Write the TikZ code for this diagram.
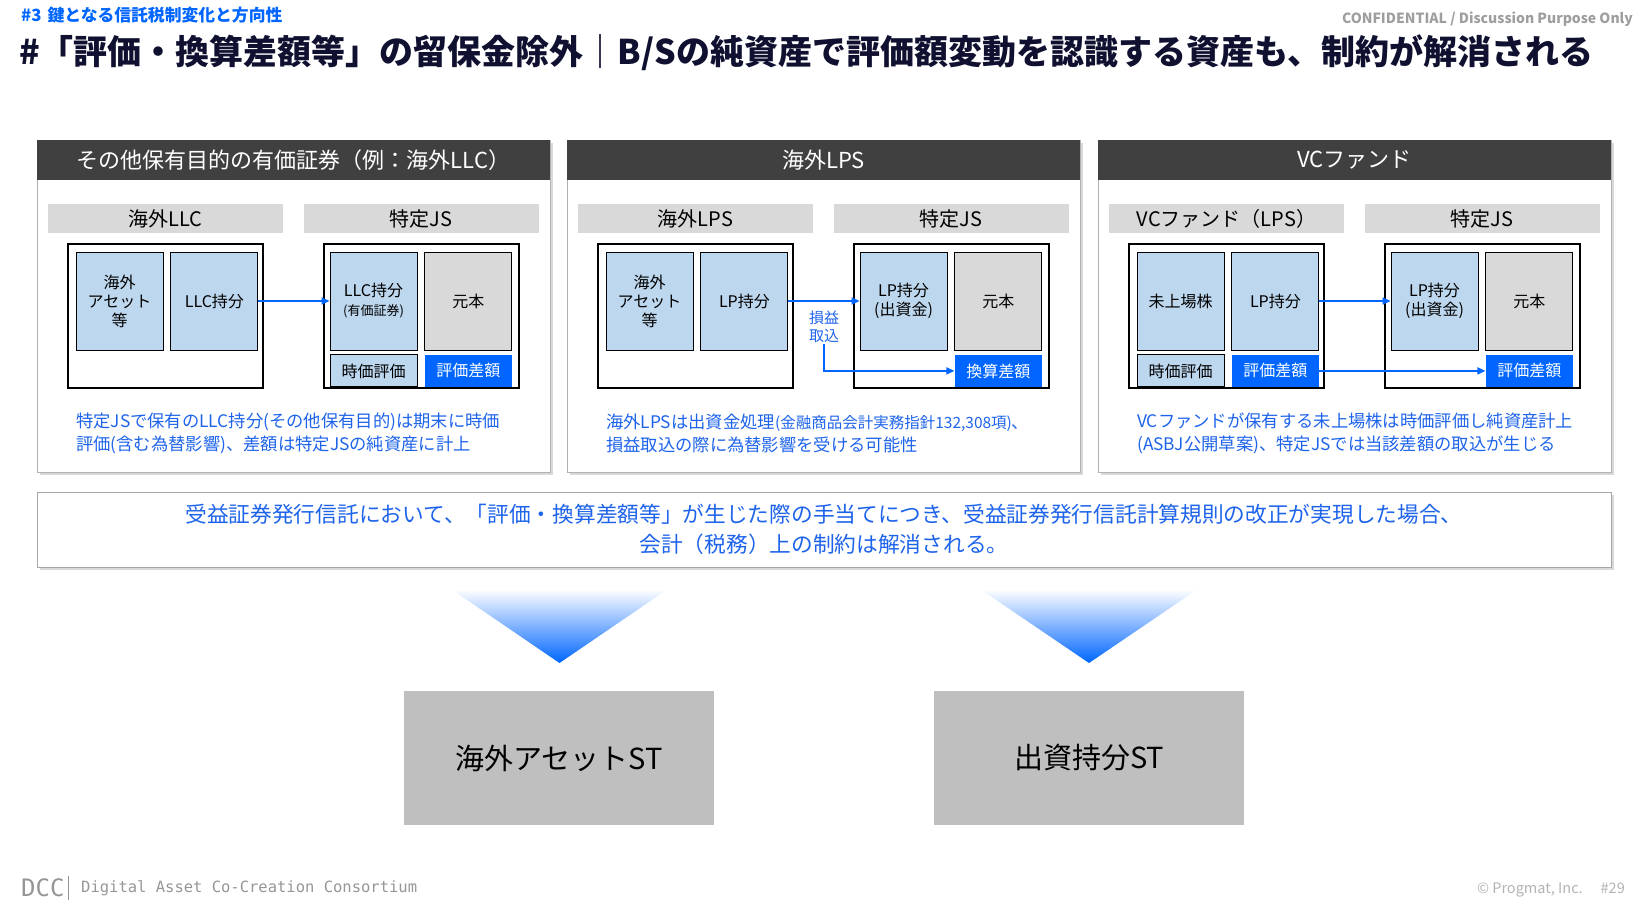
\documentclass[tikz,border=0pt]{standalone}
\usepackage{fontspec}
\setmainfont{Noto Sans CJK JP}
\newfontfamily\footmono{DejaVu Sans Mono}
\usetikzlibrary{positioning, arrows.meta, shadows}

\definecolor{bblue}{RGB}{0,102,255}
\definecolor{txtblue}{RGB}{30,100,235}
\definecolor{lblue}{RGB}{189,215,238}
\definecolor{headgray}{RGB}{64,64,64}
\definecolor{labgray}{RGB}{217,217,217}
\definecolor{stgray}{RGB}{191,191,191}
\definecolor{titleink}{RGB}{16,16,48}
\definecolor{footgray}{RGB}{150,150,150}

\begin{document}
\begin{tikzpicture}[x=1pt, y=-1pt,
		node distance={4pt and 7pt},
		panel/.style = {draw=black!30, fill=white, minimum width=513pt, minimum height=332pt, inner sep=0pt,
			drop shadow={opacity=0.3, shadow xshift=3pt, shadow yshift=-3pt}},
		head/.style = {fill=headgray, text=white, minimum width=513pt, minimum height=40pt, inner sep=0pt, font=\fontsize{22}{26}\selectfont},
		tag/.style = {fill=labgray, minimum width=235pt, minimum height=29pt, inner sep=0pt, font=\fontsize{20}{24}\selectfont},
		frame/.style = {draw, line width=1.2pt, minimum width=195pt, minimum height=144pt, inner sep=0pt},
		item/.style = {draw, line width=0.9pt, fill=lblue, minimum width=87pt, minimum height=98pt, inner sep=0pt, align=center, font=\fontsize{16}{19}\selectfont},
		gitem/.style = {item, fill=labgray},
		sub/.style = {draw, line width=0.9pt, fill=lblue, minimum width=87pt, minimum height=32pt, inner sep=0pt, font=\fontsize{16}{19}\selectfont},
		hot/.style = {sub, draw=none, fill=bblue, text=white},
		flow/.style = {draw=bblue, line width=1.5pt, -{Triangle[length=8pt, width=7pt]}},
		note/.style = {text=txtblue, align=left, inner sep=0pt, anchor=west, font=\fontsize{17.3}{23}\selectfont},
		stbox/.style = {fill=stgray, minimum width=310pt, minimum height=134pt, inner sep=0pt, font=\fontsize{29}{33}\selectfont}
	]
\useasboundingbox (0,0) rectangle (1646,919);

% heading
\node[anchor=west, inner sep=0pt, text=bblue, font=\fontsize{16.8}{20}\selectfont\bfseries] (kicker) at (21,15) {\#3\hspace{6pt}鍵となる信託税制変化と方向性};
\node[anchor=west, inner sep=0pt, text=titleink, font=\fontsize{34}{40}\selectfont\bfseries] (title) at (19,53) {\#「評価・換算差額等」の留保金除外｜B/Sの純資産で評価額変動を認識する資産も、制約が解消される};
\node[anchor=east, inner sep=0pt, text=black!38, font=\fontsize{14}{17}\selectfont\bfseries] (conf) at (1633,19) {CONFIDENTIAL / Discussion Purpose Only};

% panel 1
\node[panel] (p1) at (293.5,306) {};
\node[head, anchor=north] (h1) at (p1.north) {その他保有目的の有価証券（例：海外LLC）};
\node[tag] (t1l) at (165.5,218.5) {海外LLC};
\node[tag] (t1r) at (421,218.5) {特定JS};
\node[frame] (f1l) at (165.5,316) {};
\node[frame] (f1r) at (421.5,316) {};
\node[item] (a1) at (119.5,301) {海外\\アセット\\等};
\node[item, right=of a1] (b1) {LLC持分};
\node[item] (c1) at (373.5,301) {LLC持分\\{\fontsize{13}{15}\selectfont(有価証券)}};
\node[gitem, right=of c1] (d1) {元本};
\node[sub, below=of c1] (e1) {時価評価};
\node[hot, below=of d1] (g1) {評価差額};
\node[note] (n1) at (76,433) {特定JSで保有のLLC持分(その他保有目的)は期末に時価\\評価(含む為替影響)、差額は特定JSの純資産に計上};
\draw[flow] (b1) -- (c1);

% panel 2
\begin{scope}[xshift=530pt]
\node[panel] (p2) at (293.5,306) {};
\node[head, anchor=north] (h2) at (p2.north) {海外LPS};
\node[tag] (t2l) at (165.5,218.5) {海外LPS};
\node[tag] (t2r) at (421,218.5) {特定JS};
\node[frame] (f2l) at (165.5,316) {};
\node[frame] (f2r) at (421.5,316) {};
\node[item] (a2) at (119.5,301) {海外\\アセット\\等};
\node[item, right=of a2] (b2) {LP持分};
\node[item] (c2) at (373.5,301) {LP持分\\(出資金)};
\node[gitem, right=of c2] (d2) {元本};
\node[hot, below=of d2] (g2) {換算差額};
\node[inner sep=1pt, align=center, text=txtblue, font=\fontsize{15}{18}\selectfont] (k2) at (294,327) {損益\\取込};
\node[note] (n2) at (76,433) {海外LPSは出資金処理{\fontsize{15.5}{23}\selectfont(金融商品会計実務指針132,308項)}、\\損益取込の際に為替影響を受ける可能性};
\draw[flow] (b2) -- (c2);
\draw[flow] (k2.south) |- (g2);
\end{scope}

% panel 3
\begin{scope}[xshift=1061pt]
\node[panel] (p3) at (293.5,306) {};
\node[head, anchor=north] (h3) at (p3.north) {VCファンド};
\node[tag] (t3l) at (165.5,218.5) {VCファンド（LPS）};
\node[tag] (t3r) at (421,218.5) {特定JS};
\node[frame] (f3l) at (165.5,316) {};
\node[frame] (f3r) at (421.5,316) {};
\node[item] (a3) at (119.5,301) {未上場株};
\node[item, right=of a3] (b3) {LP持分};
\node[sub, below=of a3] (e3) {時価評価};
\node[hot, below=of b3] (s3) {評価差額};
\node[item] (c3) at (373.5,301) {LP持分\\(出資金)};
\node[gitem, right=of c3] (d3) {元本};
\node[hot, below=of d3] (g3) {評価差額};
\node[note] (n3) at (76,433) {VCファンドが保有する未上場株は時価評価し純資産計上\\(ASBJ公開草案)、特定JSでは当該差額の取込が生じる};
\draw[flow] (b3) -- (c3);
\draw[flow] (s3) -- (g3);
\end{scope}

% summary
\node[draw=black!35, fill=white, drop shadow={opacity=0.3, shadow xshift=3pt, shadow yshift=-3pt},
	minimum width=1574pt, minimum height=75pt, align=center, text=txtblue, font=\fontsize{21.7}{30}\selectfont] (sum) at (824,529.5)
	{受益証券発行信託において、「評価・換算差額等」が生じた際の手当てにつき、受益証券発行信託計算規則の改正が実現した場合、\\会計（税務）上の制約は解消される。};

% down arrows
\shade[top color=white, middle color=bblue, bottom color=bblue] (451,589) -- (668,589) -- (559.5,663) -- cycle;
\shade[top color=white, middle color=bblue, bottom color=bblue] (980,589) -- (1198,589) -- (1089,663) -- cycle;

\node[stbox] (st1) at (559,758) {海外アセットST};
\node[stbox] (st2) at (1089,758) {出資持分ST};

% footer
\node[anchor=west, inner sep=0pt, text=footgray, font=\footmono\fontsize{24}{26}\selectfont] (dcc) at (21,888) {DCC};
\draw[footgray, line width=1pt] ([xshift=4pt, yshift=3pt]dcc.north east) -- ([xshift=4pt, yshift=-3pt]dcc.south east);
\node[anchor=west, inner sep=0pt, text=footgray, font=\footmono\fontsize{15.5}{18}\selectfont] (dccname) at (81,888) {Digital Asset Co-Creation Consortium};
\node[anchor=east, inner sep=0pt, text=black!30, font=\fontsize{14.5}{17}\selectfont] (copy) at (1625,890) {© Progmat, Inc.\hspace{18pt}\#29};
\end{tikzpicture}
\end{document}
